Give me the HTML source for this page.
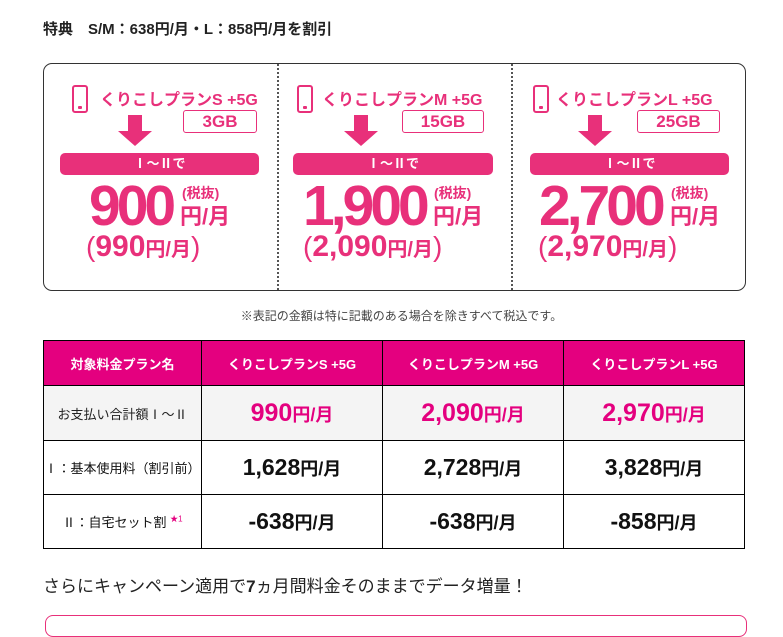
<!DOCTYPE html>
<html><head><meta charset="utf-8"><style>
body{margin:0;width:783px;height:618px;overflow:hidden;background:#fff;font-family:"Liberation Sans","Noto Sans CJK JP",sans-serif;position:relative}
.a{position:absolute;white-space:nowrap}
.p{color:#e8307a;font-weight:bold}
.ic{position:absolute;width:12px;height:24px;border:2px solid #e8307a;border-radius:3px}
.ic:after{content:"";position:absolute;left:4px;bottom:2px;width:4px;height:3px;background:#e8307a;border-radius:1px}
.gb{position:absolute;height:21px;border:1.5px solid #e8307a;border-radius:3px;color:#e8307a;font-weight:bold;font-size:17px;text-align:center;line-height:21px}
.sh{position:absolute;width:14px;height:16px;background:#e8307a}
.hd{position:absolute;width:0;height:0;border-left:17px solid transparent;border-right:17px solid transparent;border-top:15px solid #e8307a}
.bar{position:absolute;height:22px;background:#e8307a;border-radius:5px;color:#fff;font-weight:bold;font-size:13px;text-align:center;line-height:22px}
.big{font-size:57px;letter-spacing:-4px;line-height:58px}
.t{font-size:16px}
.pr{font-weight:normal;font-size:28px}
table{position:absolute;left:43px;top:340px;border-collapse:collapse}
td{border:1.5px solid #000;text-align:center;padding:0}
</style></head><body>
<div class="a" style="left:43px;top:18px;font-size:15px;font-weight:bold;color:#222">特典　S/M：638円/月・L：858円/月を割引</div>
<div class="a" style="left:43px;top:63px;width:701px;height:226px;border:1.5px solid #333;border-radius:9px"></div>
<div class="a" style="left:277px;top:64px;height:226px;border-left:2px dotted #555"></div>
<div class="a" style="left:511px;top:64px;height:226px;border-left:2px dotted #555"></div>

<!-- panel 1 -->
<div class="ic" style="left:72px;top:85px"></div>
<div class="a p t" style="left:100px;top:86px">くりこしプランS +5G</div>
<div class="gb" style="left:183px;top:110px;width:72px">3GB</div>
<div class="sh" style="left:128px;top:115px"></div><div class="hd" style="left:118px;top:131px"></div>
<div class="bar" style="left:60px;top:153px;width:199px">Ⅰ～Ⅱで</div>
<div class="a p big" style="left:89px;top:177px">900</div>
<div class="a p" style="left:182px;top:183px;font-size:14px">(税抜)</div>
<div class="a p" style="left:180px;top:199px;font-size:22px">円/月</div>
<div class="a p" style="left:86px;top:230px;font-size:30px"><span class="pr">(</span>990<span style="font-size:20px">円/月</span><span class="pr">)</span></div>

<!-- panel 2 -->
<div class="ic" style="left:297px;top:85px"></div>
<div class="a p t" style="left:322px;top:86px">くりこしプランM +5G</div>
<div class="gb" style="left:402px;top:110px;width:80px">15GB</div>
<div class="sh" style="left:354px;top:115px"></div><div class="hd" style="left:344px;top:131px"></div>
<div class="bar" style="left:293px;top:153px;width:200px">Ⅰ～Ⅱで</div>
<div class="a p big" style="left:303px;top:177px">1,900</div>
<div class="a p" style="left:434px;top:183px;font-size:14px">(税抜)</div>
<div class="a p" style="left:433px;top:199px;font-size:22px">円/月</div>
<div class="a p" style="left:303px;top:230px;font-size:30px"><span class="pr">(</span>2,090<span style="font-size:20px">円/月</span><span class="pr">)</span></div>

<!-- panel 3 -->
<div class="ic" style="left:533px;top:85px"></div>
<div class="a p t" style="left:556px;top:86px">くりこしプランL +5G</div>
<div class="gb" style="left:637px;top:110px;width:81px">25GB</div>
<div class="sh" style="left:588px;top:115px"></div><div class="hd" style="left:578px;top:131px"></div>
<div class="bar" style="left:530px;top:153px;width:199px">Ⅰ～Ⅱで</div>
<div class="a p big" style="left:539px;top:177px">2,700</div>
<div class="a p" style="left:671px;top:183px;font-size:14px">(税抜)</div>
<div class="a p" style="left:670px;top:199px;font-size:22px">円/月</div>
<div class="a p" style="left:538px;top:230px;font-size:30px"><span class="pr">(</span>2,970<span style="font-size:20px">円/月</span><span class="pr">)</span></div>

<div class="a" style="left:0;width:783px;top:307px;text-align:center;font-size:12px;color:#444;padding-left:10px">※表記の金額は特に記載のある場合を除きすべて税込です。</div>

<table>
<tr style="height:45px;background:#e4007f;color:#fff;font-weight:bold;font-size:13px">
<td style="width:157px">対象料金プラン名</td><td style="width:180px">くりこしプランS +5G</td><td style="width:180px">くりこしプランM +5G</td><td style="width:180px">くりこしプランL +5G</td></tr>
<tr style="height:55px;background:#f4f4f4;color:#e4007f;font-weight:bold">
<td style="color:#222;font-weight:normal;font-size:13px">お支払い合計額Ⅰ～Ⅱ</td>
<td><span style="font-size:25px">990</span><span style="font-size:18px">円/月</span></td>
<td><span style="font-size:25px">2,090</span><span style="font-size:18px">円/月</span></td>
<td><span style="font-size:25px">2,970</span><span style="font-size:18px">円/月</span></td></tr>
<tr style="height:54px;font-weight:bold;color:#111">
<td style="font-weight:normal;font-size:13px">Ⅰ：基本使用料（割引前）</td>
<td><span style="font-size:23px">1,628</span><span style="font-size:18px">円/月</span></td>
<td><span style="font-size:23px">2,728</span><span style="font-size:18px">円/月</span></td>
<td><span style="font-size:23px">3,828</span><span style="font-size:18px">円/月</span></td></tr>
<tr style="height:54px;font-weight:bold;color:#111">
<td style="font-weight:normal;font-size:13px">Ⅱ：自宅セット割 <sup style="color:#e4007f;font-size:8px">★1</sup></td>
<td><span style="font-size:23px">-638</span><span style="font-size:18px">円/月</span></td>
<td><span style="font-size:23px">-638</span><span style="font-size:18px">円/月</span></td>
<td><span style="font-size:23px">-858</span><span style="font-size:18px">円/月</span></td></tr>
</table>

<div class="a" style="left:43px;top:572px;font-size:17px;color:#222">さらにキャンペーン適用で<b>7</b>ヵ月間料金そのままでデータ増量！</div>
<div class="a" style="left:45px;top:615px;width:700px;height:20px;border:1.5px solid #e8307a;border-radius:8px"></div>
</body></html>
